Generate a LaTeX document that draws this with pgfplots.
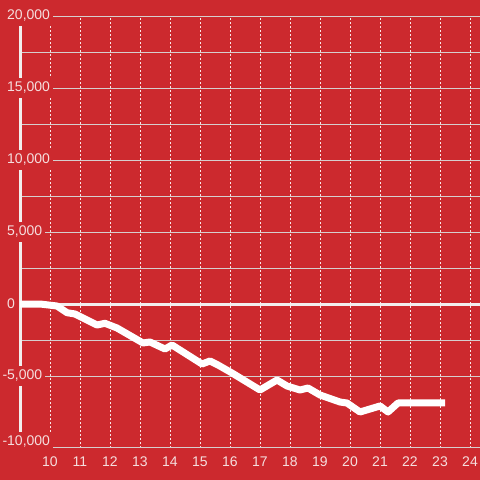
\documentclass[border=0pt]{standalone}
\usepackage{pgfplots}
\pgfplotsset{compat=1.18}
\usepackage{fontspec}
\setmainfont{Liberation Sans}

\definecolor{bg}{RGB}{204,41,46}
\definecolor{tc}{RGB}{245,222,222}
\definecolor{gridc}{RGB}{214,206,206}
\definecolor{axw}{RGB}{242,238,238}

% negative labels: the minus sign hangs to the left
\newcommand\lblmfive{\llap{-}5,000}
\newcommand\lblmten{\llap{-}10,000}
\newcommand\lblfive{5,000}
\newcommand\lblten{10,000}
\newcommand\lblfifteen{15,000}
\newcommand\lbltwenty{20,000}

\begin{document}
\begin{tikzpicture}
\begin{axis}[
    set layers=standard,
    at={(20pt,32pt)}, anchor=south west,
    scale only axis, width=460pt, height=432pt,
    xmin=9, xmax=24.3333, ymin=-10000, ymax=20000,
    axis y line*=left, axis x line*=bottom,
    x axis line style={draw=none},
    y axis line style={-, draw=axw, line width=3pt, shorten <=13pt, shorten >=8pt},
    xtick={10,...,24},
    ytick={-5000,0,...,20000},
    yticklabels={\lblmfive,0,\lblfive,\lblten,\lblfifteen,\lbltwenty},
    extra y ticks={-10000},
    extra y tick labels={\lblmten},
    extra y tick style={yticklabel style={yshift=6.5pt}},
    minor y tick num=1,
    major tick length=0pt, minor tick length=0pt,
    grid=both,
    major x grid style={draw=white!88!bg, line width=0.9pt, dash pattern=on 2pt off 2pt},
    major y grid style={draw=gridc, line width=1pt},
    minor y grid style={draw=gridc, line width=1pt},
    scaled y ticks=false,
    /pgf/number format/assume math mode=true,
    tick label style={font=\fontsize{14}{16}\selectfont, text=tc},
    xticklabel style={anchor=center, yshift=-14pt},
    yticklabel style={anchor=west, xshift=-15.5pt, fill=bg, inner xsep=2.5pt, inner ysep=4pt},
    clip=false,
]
\begin{pgfonlayer}{axis background}
\fill[bg] ([shift={(-25pt,-40pt)}]rel axis cs:0,0) rectangle ([shift={(10pt,20pt)}]rel axis cs:1,1);
\end{pgfonlayer}
\addplot[axw, line width=3pt, forget plot] coordinates {(9,0) (24.3333,0)};
\addplot[white, line width=7pt, line join=round, line cap=butt] coordinates {
    (9.0,0) (9.667,0) (10.233,-139) (10.567,-604) (10.833,-694)
    (11.567,-1458) (11.833,-1340) (12.233,-1667) (13.1,-2708)
    (13.333,-2639) (13.833,-3125) (14.067,-2847) (15.067,-4167)
    (15.333,-3958) (15.6,-4236) (16.067,-4792) (17.0,-5972)
    (17.567,-5278) (17.9,-5694) (18.333,-5972) (18.6,-5833)
    (19.0,-6319) (19.667,-6806) (19.9,-6875) (20.333,-7500)
    (21.0,-7083) (21.267,-7500) (21.6,-6875) (23.167,-6875)
};
\end{axis}
\pgfresetboundingbox
\useasboundingbox (0,0) rectangle (480pt,480pt);
\end{tikzpicture}
\end{document}
